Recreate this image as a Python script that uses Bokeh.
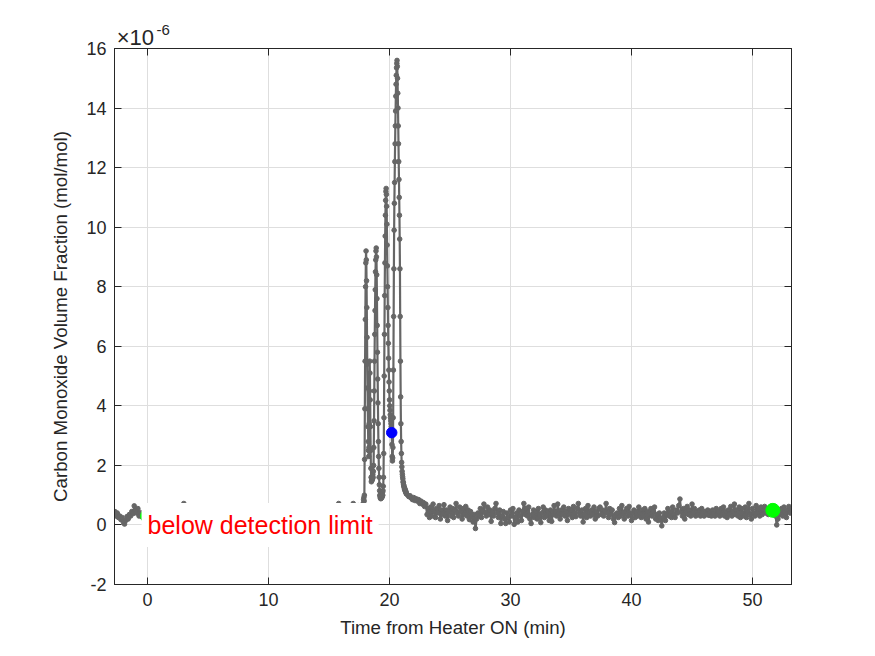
import numpy as np
from bokeh.plotting import figure
from bokeh.models import Label, LinearAxis, FixedTicker, Range1d
from bokeh.embed import file_html
from bokeh.resources import INLINE

# Carbon monoxide volume fraction, in units of 1e-6 mol/mol, logged in blocks
# (start time in minutes from heater ON, sample interval in minutes, readings)
idle_start, idle_step = -2.7, 0.1
co_idle = [
    0.45, 0.30, 0.40, 0.25, 0.30, 0.18, 0.25, 0.10, 0.03, 0.15, 0.28, 0.20,
    0.35, 0.30, 0.45, 0.38, 0.64, 0.50, 0.40, 0.55, 0.30, 0.42, 0.30,
]

warm_start, warm_step = -0.4, 0.2
co_warm = [
    0.25, 0.32, 0.28, 0.40, 0.22, 0.35, 0.30, 0.45, 0.25,
    0.38, 0.20, 0.42, 0.30, 0.50, 0.28, 0.45, 0.55, 0.72, 0.40,
    0.30, 0.45, 0.25, 0.40, 0.20, 0.35, 0.50, 0.30, 0.42, 0.28,
    0.35, 0.48, 0.22, 0.40, 0.30, 0.52, 0.25, 0.38, 0.45, 0.30,
    0.40, 0.28, 0.50, 0.35, 0.20, 0.42, 0.30, 0.48, 0.25, 0.40,
    0.32, 0.45, 0.28, 0.50, 0.35, 0.22, 0.40, 0.30, 0.46, 0.33,
    0.38, 0.25, 0.45, 0.30, 0.52, 0.35, 0.28, 0.42, 0.30, 0.50,
    0.35, 0.45, 0.28, 0.55, 0.40, 0.32, 0.50, 0.38, 0.45, 0.30,
    0.48, 0.55, 0.72, 0.45, 0.52, 0.40, 0.60, 0.50, 0.72, 0.58, 0.65,
]

burst_start, burst_step = 17.8, 0.02
co_burst = [
    0.55, 0.72, 0.60, 0.85, 0.92, 0.80, 1.00,
    2.2, 3.9, 5.5, 6.9, 8.0, 8.8, 9.2,
    8.9, 8.2, 7.3, 6.3, 5.4, 4.6, 3.9, 3.3, 2.8, 2.5, 2.3,
    2.6, 3.4, 4.5, 5.5, 5.1, 4.2, 3.3, 2.5, 1.9,
    1.6, 1.45, 1.5, 1.6, 1.5, 1.65, 1.55, 1.7, 1.6, 1.8, 2.0,
    2.6, 3.5, 4.5, 5.5, 6.4, 7.2, 7.9, 8.5, 8.9, 9.2, 9.3,
    9.0, 8.4, 7.6, 6.7, 5.8, 4.9, 4.1, 3.4, 2.8, 2.3, 1.9, 1.6, 1.35,
    1.15, 1.0, 0.95, 0.9, 1.0, 0.88, 0.95, 0.9, 1.02, 0.92, 1.0, 0.95, 1.1, 1.0, 1.15, 1.3, 1.6,
    2.4, 3.6, 5.0, 6.4, 7.7, 8.8, 9.7, 10.4, 10.9, 11.2, 11.3,
    11.1, 10.7, 10.1, 9.4, 8.7, 8.0, 7.3, 6.7, 6.1, 5.6, 5.2, 4.8, 4.5, 4.2, 4.0, 3.85,
    3.7, 3.6, 3.5, 3.4, 3.3, 3.2,
    3.1,
    2.7, 2.3, 2.15, 2.25, 2.6,
    3.6, 5.2, 7.0, 8.6, 9.9, 10.8, 11.5,
    12.2, 12.8, 13.4, 13.9, 14.4, 14.8, 15.1, 15.35, 15.5, 15.6,
    15.4, 15.0, 14.5, 14.0, 13.4, 12.8, 12.2, 11.6, 11.0, 10.4, 9.6,
    8.6, 7.0, 5.5, 4.3, 3.4, 2.8, 2.4, 2.1, 1.95, 1.8, 1.7, 1.62, 1.55, 1.45,
    1.42, 1.35, 1.32, 1.28, 1.25, 1.2, 1.22, 1.15, 1.18, 1.12, 1.1, 1.12, 1.05,
]

after_start, after_step = 21.4, 0.1
co_after = [
    1.05, 1.00, 0.95, 0.98, 0.90, 0.85, 0.92, 0.82, 0.88, 0.80,
    0.85, 0.72, 0.80, 0.70, 0.75, 0.62, 0.70, 0.35, 0.55, 0.25,
    0.60, 0.30, 0.70, 0.45, 0.25, 0.55, 0.40, 0.65, 0.20, 0.50,
    0.35, 0.68, 0.30, 0.50, 0.15, 0.45, 0.60, 0.30, 0.55, 0.25,
    0.50, 0.72, 0.40, 0.30, 0.60, 0.45, 0.20, 0.55, 0.35, 0.62,
    0.30, 0.50, 0.18, 0.45, 0.30, 0.10, 0.35, -0.12, 0.20, 0.40,
    0.30, 0.55, 0.25, 0.48, 0.70, 0.40, 0.30, 0.60, 0.35, 0.50,
    0.12, 0.45, 0.30, 0.55, 0.72, 0.40, 0.25, 0.50, 0.05, 0.30,
    0.45, 0.20, 0.05, 0.40, 0.25, 0.10, 0.50, 0.30, 0.55, 0.02,
    0.25, 0.40, 0.10, 0.50, 0.30, 0.15, 0.45, 0.72, 0.35, 0.55,
    0.30, 0.60, 0.20, 0.05, 0.35, 0.50, 0.25, 0.45, 0.20, 0.55,
    0.30, 0.08, 0.40, 0.60, 0.25, 0.50, 0.30, 0.45, 0.15, 0.50,
    0.12, 0.35, 0.65, 0.45, 0.30, 0.70, 0.40, 0.20, 0.50, 0.35,
    0.60, 0.30, 0.45, 0.15, 0.55, 0.35, 0.50, 0.25, 0.62, 0.40,
    0.28, 0.55, 0.72, 0.40, 0.30, 0.50, 0.10, 0.35, 0.55, 0.25,
    0.65, 0.40, 0.30, 0.50, 0.35, 0.60, 0.20, 0.45, 0.30, 0.55,
    0.60, 0.35, 0.50, 0.30, 0.45, 0.72, 0.40, 0.25, 0.55, 0.35,
    0.50, 0.20, 0.08, 0.35, 0.40, 0.25, 0.55, 0.30, 0.65, 0.40,
    0.20, 0.45, 0.55, 0.30, 0.62, 0.35, 0.15, 0.40, 0.50, 0.25,
    0.45, 0.30, 0.60, 0.40, 0.25, 0.50, 0.30, 0.55, 0.20, 0.45,
    0.10, 0.35, 0.55, 0.30, 0.45, 0.60, 0.20, 0.35, 0.15, 0.40,
    0.20, -0.03, 0.25, 0.40, 0.15, 0.35, 0.55, 0.30, 0.45, 0.25,
    0.60, 0.35, 0.25, 0.50, 0.40, 0.65, 0.87, 0.45, 0.30, 0.55,
    0.20, 0.45, 0.62, 0.35, 0.50, 0.30, 0.70, 0.40, 0.55, 0.30,
    0.45, 0.35, 0.50, 0.30, 0.55, 0.40, 0.30, 0.45, 0.35, 0.50,
    0.32, 0.45, 0.30, 0.50, 0.38, 0.30, 0.55, 0.35, 0.45, 0.30,
    0.55, 0.35, 0.60, 0.30, 0.45, 0.25, 0.50, 0.35, 0.62, 0.30,
    0.45, 0.70, 0.35, 0.50, 0.30, 0.60, 0.25, 0.55, 0.40, 0.30,
    0.60, 0.25, 0.45, 0.72, 0.35, 0.20, 0.55, 0.40, 0.30, 0.65,
    0.40, 0.55, 0.30, 0.60, 0.35, 0.50, 0.62, 0.40, 0.55, 0.35,
    0.50, 0.62, 0.45, 0.55, 0.40, 0.30, 0.00, 0.20, 0.45, 0.35,
    0.55, 0.30, 0.60, 0.40, 0.25, 0.50, 0.62, 0.40, 0.50,
]

# Highlighted readings
onset_t, onset_co = [0.0], [0.3]
marked_t, marked_co = [20.18], [3.1]
final_t, final_co = [51.68], [0.49]

x_ticks = [0, 10, 20, 30, 40, 50]
y_ticks = [-2, 0, 2, 4, 6, 8, 10, 12, 14, 16]
x_lo, x_hi = -2.73, 53.22
y_lo, y_hi = -2, 16

# y axis multiplier "x10^-6", anchored along the top edge (time units)
mult_text, mult_at = "\u00d710", -1.0
exp_text, exp_at = "-6", 1.3


def block_times(start, step, values):
    return start + step * np.arange(len(values))


t = np.concatenate([
    block_times(idle_start, idle_step, co_idle),
    block_times(warm_start, warm_step, co_warm),
    block_times(burst_start, burst_step, co_burst),
    block_times(after_start, after_step, co_after),
])
co = np.concatenate([co_idle, co_warm, co_burst, co_after])

FONT = "Liberation Sans"
INK = "#262626"
TRACE = "#666666"

p = figure(
    width=875, height=656, output_backend="svg", toolbar_location=None, title=None,
    x_range=Range1d(x_lo, x_hi), y_range=Range1d(y_lo, y_hi),
    min_border_left=114, min_border_right=84, min_border_top=48, min_border_bottom=72,
    background_fill_color="white", border_fill_color="white",
)
p.outline_line_color = INK
p.outline_line_width = 1

for ax in (p.xaxis[0], p.yaxis[0]):
    ax.major_tick_in = 7
    ax.major_tick_out = 0
    ax.minor_tick_line_color = None
    ax.axis_line_color = INK
    ax.major_tick_line_color = INK
    ax.major_label_text_font = FONT
    ax.major_label_text_font_size = "18px"
    ax.major_label_text_color = INK
    ax.axis_label_text_font = FONT
    ax.axis_label_text_font_size = "18.7px"
    ax.axis_label_text_font_style = "normal"
    ax.axis_label_text_color = INK
    ax.major_label_standoff = 8

p.xaxis.ticker = FixedTicker(ticks=x_ticks)
p.yaxis.ticker = FixedTicker(ticks=y_ticks)
p.yaxis.major_label_overrides = {v: str(v) for v in y_ticks}
p.xaxis.axis_label = "Time from Heater ON (min)"
p.yaxis.axis_label = "Carbon Monoxide Volume Fraction (mol/mol)"
p.xaxis.axis_label_standoff = 8
p.yaxis.axis_label_standoff = 12

# tick marks on the top and right edges of the box
top_ax = LinearAxis(ticker=FixedTicker(ticks=x_ticks))
right_ax = LinearAxis(ticker=FixedTicker(ticks=y_ticks))
for ax in (top_ax, right_ax):
    ax.major_tick_in = 7
    ax.major_tick_out = 0
    ax.minor_tick_line_color = None
    ax.axis_line_color = INK
    ax.major_tick_line_color = INK
    ax.major_label_text_color = None
    ax.major_label_text_font_size = "1px"
    ax.major_label_standoff = 0
p.add_layout(top_ax, "above")
p.add_layout(right_ax, "right")

# multiplier and its raised exponent, carried by two label-only axes
mult_ax = LinearAxis(ticker=FixedTicker(ticks=[mult_at]),
                     major_label_overrides={mult_at: mult_text})
exp_ax = LinearAxis(ticker=FixedTicker(ticks=[exp_at]),
                    major_label_overrides={exp_at: exp_text})
for ax, size in ((mult_ax, "22px"), (exp_ax, "15px")):
    ax.axis_line_color = None
    ax.major_tick_line_color = None
    ax.minor_tick_line_color = None
    ax.major_tick_in = 0
    ax.major_tick_out = 0
    ax.major_label_standoff = 1
    ax.major_label_text_font = FONT
    ax.major_label_text_font_size = size
    ax.major_label_text_color = INK
mult_ax.major_label_text_baseline = "alphabetic"
mult_ax.major_label_standoff = -1
exp_ax.major_label_text_baseline = "top"
exp_ax.major_label_standoff = -13
p.add_layout(mult_ax, "above")
p.add_layout(exp_ax, "above")

p.xgrid.ticker = FixedTicker(ticks=x_ticks)
p.ygrid.ticker = FixedTicker(ticks=y_ticks)
p.grid.grid_line_color = "#dedede"
p.grid.grid_line_width = 1

p.line(t, co, line_color=TRACE, line_width=2.2)
p.scatter(t, co, size=4.6, marker="circle", fill_color=TRACE, line_color=TRACE)

p.scatter(onset_t, onset_co, size=14, marker="circle", fill_color="#00ff00", line_color="#00ff00")
p.scatter(final_t, final_co, size=14, marker="circle", fill_color="#00ff00", line_color="#00ff00")
p.scatter(marked_t, marked_co, size=10.5, marker="circle", fill_color="#0000ff", line_color="#0000ff")

p.add_layout(Label(
    x=0, y=0, text="below detection limit", x_offset=-6,
    text_baseline="middle", text_align="left",
    text_font=FONT, text_font_size="25px", text_color="#ff0000",
    background_fill_color="white", padding=(6, 8),
))

open("out.html", "w").write(file_html(p, INLINE))
